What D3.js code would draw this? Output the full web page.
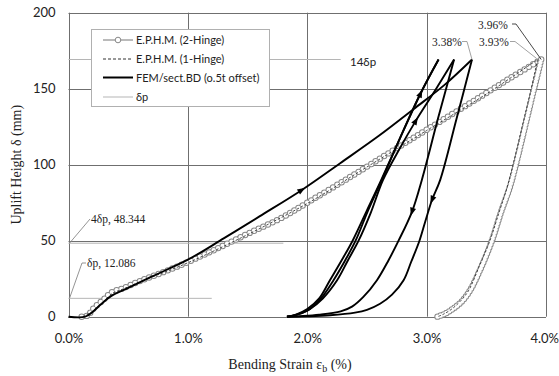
<!DOCTYPE html>
<html><head><meta charset="utf-8">
<script src="https://cdn.jsdelivr.net/npm/d3@7"></script>
<style>
body{margin:0;background:#fff}
.sans{font-family:Lato,"Liberation Sans",sans-serif}
.serif{font-family:"Liberation Serif","DejaVu Serif",serif}
</style></head><body>
<svg id="c" width="559" height="376"></svg>
<script>
// ---------- data ----------
const xTicks = [0, 1, 2, 3, 4];
const xTickLabels = ["0.0%", "1.0%", "2.0%", "3.0%", "4.0%"];
const yTicks = [0, 50, 100, 150, 200];
const deltaP = 12.086;
const deltaPLines = [ {k: 1, xEnd: 1.2}, {k: 4, xEnd: 1.8}, {k: 14, xEnd: 2.28} ];

// E.P.H.M. (2-Hinge): loading & unloading  [strain %, uplift mm]
const ephm2Load = [[0.11,0],[0.16,0.8],[0.21,5.5],[0.29,11],[0.36,16],[0.45,18.5],[0.6,23.5],[0.8,29.5],[1.0,36],[1.25,45],[1.5,54.5],[1.776,64.7],[2.0,75],[2.33,90.5],[2.66,106.5],[3.0,123],[3.45,144.7],[3.7,157],[3.96,169.2]];
const ephm2Unload = [[3.96,169.2],[3.9,150],[3.83,127],[3.76,104],[3.7,86],[3.62,68],[3.547,50],[3.46,33],[3.366,17.6],[3.3,10.5],[3.226,5.5],[3.15,1.8],[3.09,0]];
// E.P.H.M. (1-Hinge)
const ephm1Load = [[0.12,0],[0.2,3.5],[0.3,10.5],[0.37,15.5],[0.45,18],[0.6,23],[1.0,35.5],[1.5,54],[2.0,74.5],[2.5,98.5],[3.0,122.5],[3.5,146.5],[3.93,169.2]];
const ephm1Unload = [[3.93,169.2],[3.87,148],[3.8,125],[3.73,102],[3.67,84],[3.6,67],[3.53,50],[3.44,33],[3.35,17],[3.28,10],[3.21,5],[3.14,1.6],[3.09,0]];
// FEM/sect.BD (0.5t offset)
const femLoad = [[0,0],[0.14,0],[0.2,3],[0.27,8],[0.35,13.2],[0.5,19],[0.7,26.5],[1.0,37.5],[1.3,51.5],[1.6,66],[1.955,83.4],[2.276,101],[2.6,119],[2.89,136.5],[3.15,152.5],[3.38,169.2]];
const femUnload1 = [[3.38,169.2],[3.25,130],[3.114,90],[3.045,76.8],[2.99,63],[2.94,50],[2.87,36],[2.807,24],[2.71,14.5],[2.61,8.5],[2.5,4.5],[2.4,2.7],[2.19,1],[2.0,0.3],[1.83,0]];
const femReload1 = [[1.83,0],[1.92,1.5],[2.02,5],[2.13,12],[2.25,24],[2.34,37],[2.43,50],[2.53,68],[2.635,90],[2.77,110],[2.91,129],[3.08,150],[3.23,169.2]];
const femUnload2 = [[3.23,169.2],[3.094,130],[2.96,90],[2.877,69],[2.765,50],[2.68,37],[2.584,24],[2.47,13],[2.375,6.6],[2.28,3.5],[2.1,1.3],[1.95,0.4],[1.83,0]];
const femReload2 = [[1.83,0],[1.91,1.5],[2.0,5],[2.1,12],[2.19,24],[2.28,36],[2.38,50],[2.5,70],[2.62,90],[2.78,118],[2.95,147],[3.10,169.2]];
const femUnload3 = [[3.10,169.2],[2.95,147],[2.78,118],[2.625,90],[2.51,70],[2.405,50],[2.31,36],[2.22,24],[2.12,12.5],[2.02,5],[1.92,1.5],[1.83,0]];
const arrowAt = [ {curve: "femLoad", s: 1.955}, {curve: "femReload1", s: 2.91}, {curve: "femReload2", s: 2.95}, {curve: "femUnload1", s: 3.045}, {curve: "femUnload2", s: 2.877} ];
const legendLabels = ["E.P.H.M. (2-Hinge)", "E.P.H.M. (1-Hinge)", "FEM/sect.BD (o.5t offset)", "δp"];

// ---------- scales ----------
const svg = d3.select("#c");
const x = d3.scaleLinear().domain([0, 4]).range([68.5, 546]);
const y = d3.scaleLinear().domain([0, 200]).range([316.7, 12.7]);
const line = d3.line().x(d => x(d[0])).y(d => y(d[1])).curve(d3.curveCatmullRom.alpha(0.5));

// ---------- grid ----------
const g = svg.append("g");
g.selectAll(".gx").data(xTicks).join("line")
  .attr("x1", d => Math.round(x(d)) + 0.5).attr("x2", d => Math.round(x(d)) + 0.5)
  .attr("y1", y(200)).attr("y2", y(0)).attr("stroke", "#6f6f6f").attr("stroke-width", 1);
g.selectAll(".gy").data(yTicks).join("line")
  .attr("y1", d => Math.round(y(d)) + 0.5).attr("y2", d => Math.round(y(d)) + 0.5)
  .attr("x1", x(0)).attr("x2", x(4)).attr("stroke", "#6f6f6f").attr("stroke-width", 1);

// delta-p reference lines
g.selectAll(".dp").data(deltaPLines).join("line")
  .attr("x1", x(0)).attr("x2", d => x(d.xEnd))
  .attr("y1", d => y(d.k * deltaP)).attr("y2", d => y(d.k * deltaP))
  .attr("stroke", "#b5b5b5").attr("stroke-width", 1);

// ---------- axes ----------
const ax = svg.append("g").attr("transform", `translate(0,${y(0)})`)
  .call(d3.axisBottom(x).tickValues(xTicks).tickFormat((d, i) => xTickLabels[i]).tickSize(0).tickPadding(17));
const ay = svg.append("g").attr("transform", `translate(${x(0)},0)`)
  .call(d3.axisLeft(y).tickValues(yTicks).tickSize(0).tickPadding(13));
[ax, ay].forEach(a => { a.select(".domain").remove(); a.selectAll("text").attr("class", "sans").attr("font-size", 13).attr("fill", "#222"); });
ax.selectAll("text").filter(d => d === 4).attr("text-anchor", "end").attr("x", 12.5);

// ---------- E.P.H.M. series ----------
function rings(data, gap) {
  svg.append("path").attr("d", line(data)).attr("fill", "none").attr("stroke", "#888")
    .attr("stroke-width", 6.4).attr("stroke-linecap", "round").attr("stroke-dasharray", `0 ${gap}`);
  svg.append("path").attr("d", line(data)).attr("fill", "none").attr("stroke", "#fff")
    .attr("stroke-width", 4.4).attr("stroke-linecap", "round").attr("stroke-dasharray", `0 ${gap}`);
}
svg.append("path").attr("d", line(ephm2Load)).attr("fill", "none").attr("stroke", "#999").attr("stroke-width", 1);
svg.append("path").attr("d", line(ephm2Unload)).attr("fill", "none").attr("stroke", "#999").attr("stroke-width", 1);
rings(ephm2Load, 5);
rings(ephm2Unload, 3.2);
[ephm1Load, ephm1Unload].forEach(dd =>
  svg.append("path").attr("d", line(dd)).attr("fill", "none").attr("stroke", "#333")
    .attr("stroke-width", 0.9).attr("stroke-dasharray", "2.5 1.8"));

// ---------- FEM ----------
const femCurves = {femLoad, femUnload1, femReload1, femUnload2, femReload2, femUnload3};
Object.values(femCurves).forEach(dd =>
  svg.append("path").attr("d", line(dd)).attr("fill", "none").attr("stroke", "#000")
    .attr("stroke-width", 1.9).attr("stroke-linejoin", "round"));

arrowAt.forEach(a => {
  const dd = femCurves[a.curve];
  let i = 0;
  for (let k = 0; k < dd.length - 1; k++) {
    const lo = Math.min(dd[k][0], dd[k+1][0]), hi = Math.max(dd[k][0], dd[k+1][0]);
    if (a.s >= lo && a.s <= hi) { i = k; break; }
  }
  const p0 = dd[i], p1 = dd[i+1];
  const t = (a.s - p0[0]) / (p1[0] - p0[0]);
  const px = x(a.s), py = y(p0[1] + t * (p1[1] - p0[1]));
  const ang = Math.atan2(y(p1[1]) - y(p0[1]), x(p1[0]) - x(p0[0])) * 180 / Math.PI;
  svg.append("path").attr("d", "M4,0L-4,-3L-4,3Z").attr("fill", "#000")
    .attr("transform", `translate(${px},${py}) rotate(${ang})`);
});

// ---------- annotations ----------
const ann = svg.append("g");
function leader(pts, col) {
  ann.append("path").attr("d", d3.line()(pts)).attr("fill", "none").attr("stroke", col).attr("stroke-width", 0.9);
}
leader([[x(0) + 1, y(4 * deltaP)], [90, 219]], "#888");
ann.append("text").attr("class", "serif").attr("x", 91).attr("y", 223).attr("font-size", 11.5).attr("fill", "#222").text("4δp, 48.344");
leader([[x(0) + 1, y(deltaP)], [82, 263], [86, 263]], "#888");
ann.append("text").attr("class", "serif").attr("x", 87).attr("y", 267).attr("font-size", 11.5).attr("fill", "#222").text("δp, 12.086");
ann.append("text").attr("class", "sans").attr("x", 350).attr("y", 66).attr("font-size", 11.5).attr("fill", "#222").text("14δp");

leader([[462, 41.5], [467, 41.5], [x(3.38), y(169.2)]], "#999");
ann.append("text").attr("class", "serif").attr("x", 432).attr("y", 46).attr("font-size", 11.5).attr("fill", "#222").text("3.38%");
leader([[510, 41.5], [515, 41.5], [x(3.93) - 1, y(169.2) - 1]], "#999");
ann.append("text").attr("class", "serif").attr("x", 479).attr("y", 46).attr("font-size", 11.5).attr("fill", "#222").text("3.93%");
leader([[512, 24], [516, 24], [x(3.96), y(169.2)]], "#333");
ann.append("text").attr("class", "serif").attr("x", 478).attr("y", 28.5).attr("font-size", 11.5).attr("fill", "#222").text("3.96%");

// ---------- legend ----------
const lg = svg.append("g");
lg.append("rect").attr("x", 91.5).attr("y", 29.5).attr("width", 178).attr("height", 77)
  .attr("fill", "#fff").attr("stroke", "#b0b0b0").attr("stroke-width", 1);
const rowY = [40, 59, 77.5, 97];
legendLabels.forEach((t, i) => {
  const yy = rowY[i];
  const l = lg.append("line").attr("x1", 103).attr("x2", 133).attr("y1", yy).attr("y2", yy);
  if (i === 0) {
    l.attr("stroke", "#777").attr("stroke-width", 1);
    lg.append("circle").attr("cx", 118).attr("cy", yy).attr("r", 2.8).attr("fill", "#fff").attr("stroke", "#888");
  } else if (i === 1) {
    l.attr("stroke", "#333").attr("stroke-width", 1).attr("stroke-dasharray", "3 2");
  } else if (i === 2) {
    l.attr("stroke", "#000").attr("stroke-width", 2);
  } else {
    l.attr("stroke", "#b5b5b5").attr("stroke-width", 1);
  }
  lg.append("text").attr("class", "sans").attr("x", 136).attr("y", yy + 4).attr("font-size", 11).attr("fill", "#222").text(t);
});

// ---------- axis titles ----------
const xt = svg.append("text").attr("class", "serif").attr("x", 290).attr("y", 369).attr("text-anchor", "middle")
  .attr("font-size", 14).attr("fill", "#222");
xt.append("tspan").text("Bending Strain  ε");
xt.append("tspan").attr("font-size", 10).attr("dy", 3).text("b");
xt.append("tspan").attr("dy", -3).text(" (%)");
svg.append("text").attr("class", "serif").attr("transform", `translate(21,${y(100)}) rotate(-90)`)
  .attr("text-anchor", "middle").attr("font-size", 14).attr("fill", "#222").text("Uplift Height  δ (mm)");
</script></body></html>
